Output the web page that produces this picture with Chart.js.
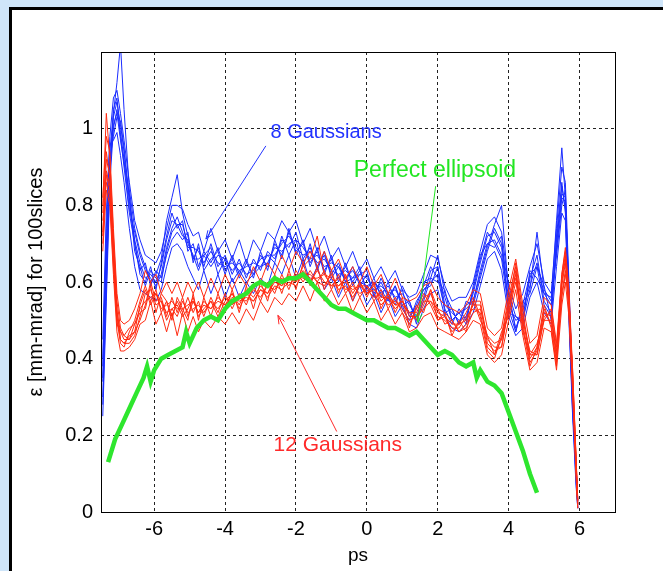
<!DOCTYPE html>
<html>
<head>
<meta charset="utf-8">
<script src="https://cdn.jsdelivr.net/npm/chart.js@4.4.1/dist/chart.umd.min.js"></script>
<style>
  html, body { margin: 0; padding: 0; }
  body { width: 663px; height: 571px; background: #cfe5f9; position: relative; overflow: hidden; }
  #frame { position: absolute; left: 9px; top: 7px; right: -10px; bottom: -10px; background: #fff;
           border-left: 3px solid #000; border-top: 3px solid #000; }
  #wrap { position: absolute; left: 0; top: 0; width: 663px; height: 571px; }
</style>
</head>
<body>
<div id="frame"></div>
<div id="wrap"><canvas id="chart" width="663" height="571"></canvas></div>
<script>
// axis ticks
const xTicks = [-6, -4, -2, 0, 2, 4, 6];
const yTicks = [0, 0.2, 0.4, 0.6, 0.8, 1];

// slice positions (ps) shared by the 8 and 12 gaussian runs
const ps = [
  -7.45, -7.35, -7.25, -7.15, -7.05, -6.95, -6.85, -6.7, -6.55, -6.4,
  -6.25, -6.1, -5.95, -5.8, -5.65, -5.5, -5.35, -5.2, -5.05, -4.9,
  -4.75, -4.6, -4.4, -4.2, -4.0, -3.8, -3.6, -3.4, -3.2, -3.0,
  -2.8, -2.6, -2.4, -2.2, -2.0, -1.8, -1.6, -1.4, -1.2, -1.0,
  -0.8, -0.6, -0.4, -0.2, 0.0, 0.2, 0.4, 0.6, 0.8, 1.0,
  1.2, 1.4, 1.6, 1.8, 2.0, 2.2, 2.4, 2.6, 2.8, 3.0,
  3.2, 3.4, 3.6, 3.8, 4.0, 4.2, 4.4, 4.6, 4.8, 5.0,
  5.2, 5.35, 5.5, 5.6, 5.7, 5.8, 5.9, 5.95
];

// 8 Gaussians runs
const blue1 = [
  0.28, 0.58, 0.88, 1.05, 1.08, 0.98, 0.90, 0.78, 0.70, 0.62,
  0.60, 0.64, 0.58, 0.65, 0.72, 0.78, 0.74, 0.76, 0.68, 0.70,
  0.64, 0.68, 0.65, 0.69, 0.63, 0.66, 0.61, 0.65, 0.62, 0.67,
  0.64, 0.70, 0.67, 0.73, 0.68, 0.70, 0.65, 0.68, 0.63, 0.66,
  0.61, 0.64, 0.60, 0.63, 0.58, 0.61, 0.56, 0.60, 0.55, 0.58,
  0.51, 0.54, 0.59, 0.64, 0.61, 0.53, 0.49, 0.53, 0.50, 0.58,
  0.66, 0.73, 0.70, 0.66, 0.53, 0.47, 0.54, 0.62, 0.64, 0.54,
  0.51, 0.72, 0.86, 0.78, 0.52, 0.28, 0.08, 0.01
];
const blue2 = [
  0.35, 0.66, 0.94, 1.04, 1.12, 1.22, 1.05, 0.84, 0.74, 0.68,
  0.64, 0.60, 0.62, 0.66, 0.76, 0.82, 0.88, 0.78, 0.72, 0.66,
  0.69, 0.64, 0.70, 0.64, 0.67, 0.62, 0.66, 0.61, 0.66, 0.63,
  0.68, 0.66, 0.71, 0.69, 0.73, 0.66, 0.69, 0.64, 0.67, 0.62,
  0.65, 0.60, 0.64, 0.59, 0.62, 0.57, 0.60, 0.56, 0.59, 0.54,
  0.55, 0.50, 0.55, 0.61, 0.67, 0.57, 0.53, 0.49, 0.54, 0.55,
  0.62, 0.69, 0.75, 0.80, 0.57, 0.51, 0.50, 0.58, 0.73, 0.58,
  0.55, 0.76, 0.95, 0.82, 0.58, 0.33, 0.12, 0.03
];
const blue3 = [
  0.40, 0.70, 0.92, 0.98, 1.03, 1.02, 0.95, 0.82, 0.68, 0.64,
  0.59, 0.63, 0.61, 0.60, 0.68, 0.73, 0.75, 0.72, 0.71, 0.66,
  0.66, 0.67, 0.64, 0.67, 0.66, 0.63, 0.65, 0.62, 0.63, 0.66,
  0.67, 0.67, 0.70, 0.72, 0.69, 0.67, 0.68, 0.65, 0.66, 0.63,
  0.62, 0.63, 0.61, 0.62, 0.61, 0.58, 0.59, 0.57, 0.58, 0.55,
  0.52, 0.53, 0.58, 0.60, 0.62, 0.56, 0.50, 0.52, 0.53, 0.55,
  0.63, 0.70, 0.71, 0.67, 0.56, 0.48, 0.53, 0.59, 0.65, 0.57,
  0.54, 0.68, 0.82, 0.81, 0.56, 0.31, 0.11, 0.02
];
const blue4 = [
  0.25, 0.55, 0.86, 1.00, 1.05, 0.99, 0.92, 0.79, 0.73, 0.67,
  0.63, 0.61, 0.59, 0.62, 0.69, 0.74, 0.77, 0.73, 0.69, 0.69,
  0.68, 0.65, 0.68, 0.65, 0.64, 0.65, 0.63, 0.64, 0.65, 0.64,
  0.65, 0.69, 0.68, 0.70, 0.71, 0.69, 0.66, 0.67, 0.64, 0.65,
  0.64, 0.61, 0.63, 0.60, 0.59, 0.60, 0.57, 0.59, 0.56, 0.57,
  0.54, 0.51, 0.56, 0.63, 0.64, 0.54, 0.52, 0.50, 0.51, 0.57,
  0.65, 0.72, 0.73, 0.69, 0.54, 0.50, 0.51, 0.61, 0.67, 0.55,
  0.52, 0.69, 0.85, 0.79, 0.54, 0.29, 0.09, 0.02
];
const blue5 = [
  0.34, 0.64, 0.89, 1.03, 1.07, 1.01, 0.94, 0.81, 0.71, 0.65,
  0.61, 0.62, 0.60, 0.64, 0.71, 0.76, 0.75, 0.75, 0.70, 0.67,
  0.63, 0.67, 0.69, 0.62, 0.66, 0.60, 0.63, 0.60, 0.62, 0.64,
  0.67, 0.65, 0.72, 0.67, 0.71, 0.64, 0.70, 0.63, 0.68, 0.61,
  0.64, 0.60, 0.61, 0.64, 0.57, 0.60, 0.58, 0.55, 0.59, 0.53,
  0.50, 0.55, 0.58, 0.59, 0.64, 0.52, 0.53, 0.49, 0.55, 0.54,
  0.61, 0.68, 0.74, 0.70, 0.58, 0.47, 0.55, 0.57, 0.64, 0.59,
  0.50, 0.71, 0.83, 0.82, 0.57, 0.32, 0.11, 0.03
];
const blue6 = [
  0.30, 0.60, 0.91, 1.01, 1.04, 0.97, 0.91, 0.83, 0.70, 0.63,
  0.65, 0.59, 0.63, 0.61, 0.67, 0.71, 0.73, 0.71, 0.73, 0.65,
  0.70, 0.63, 0.66, 0.68, 0.62, 0.67, 0.62, 0.66, 0.61, 0.68,
  0.63, 0.71, 0.66, 0.74, 0.67, 0.71, 0.64, 0.69, 0.62, 0.67,
  0.60, 0.65, 0.59, 0.62, 0.63, 0.56, 0.61, 0.57, 0.54, 0.59,
  0.55, 0.49, 0.60, 0.61, 0.60, 0.58, 0.50, 0.52, 0.49, 0.59,
  0.67, 0.70, 0.69, 0.72, 0.52, 0.51, 0.49, 0.63, 0.61, 0.57,
  0.56, 0.67, 0.80, 0.84, 0.53, 0.27, 0.12, 0.01
];
const blue7 = [
  0.38, 0.74, 0.96, 0.97, 0.99, 0.93, 0.86, 0.74, 0.64, 0.58,
  0.57, 0.56, 0.55, 0.58, 0.64, 0.69, 0.70, 0.68, 0.64, 0.61,
  0.58, 0.63, 0.57, 0.62, 0.56, 0.61, 0.56, 0.60, 0.57, 0.61,
  0.59, 0.65, 0.62, 0.67, 0.61, 0.66, 0.60, 0.64, 0.58, 0.61,
  0.56, 0.60, 0.55, 0.59, 0.54, 0.57, 0.52, 0.56, 0.51, 0.54,
  0.49, 0.48, 0.53, 0.57, 0.58, 0.51, 0.48, 0.47, 0.49, 0.52,
  0.59, 0.66, 0.68, 0.63, 0.51, 0.46, 0.48, 0.56, 0.60, 0.52,
  0.49, 0.64, 0.78, 0.76, 0.50, 0.26, 0.07, 0.01
];
const blue8 = [
  0.45, 0.78, 0.98, 1.08, 1.10, 1.04, 0.97, 0.86, 0.76, 0.71,
  0.67, 0.66, 0.65, 0.68, 0.74, 0.80, 0.80, 0.79, 0.75, 0.72,
  0.73, 0.68, 0.74, 0.68, 0.71, 0.66, 0.71, 0.65, 0.71, 0.68,
  0.73, 0.71, 0.76, 0.73, 0.76, 0.70, 0.74, 0.68, 0.72, 0.66,
  0.69, 0.64, 0.68, 0.63, 0.66, 0.61, 0.64, 0.60, 0.63, 0.58,
  0.56, 0.57, 0.62, 0.67, 0.66, 0.59, 0.55, 0.56, 0.56, 0.60,
  0.68, 0.75, 0.77, 0.73, 0.59, 0.53, 0.57, 0.64, 0.70, 0.60,
  0.57, 0.74, 0.90, 0.86, 0.60, 0.34, 0.13, 0.03
];

// 12 Gaussians runs
const red1 = [
  0.70, 0.88, 0.84, 0.66, 0.50, 0.44, 0.43, 0.47, 0.50, 0.55,
  0.59, 0.55, 0.58, 0.52, 0.55, 0.51, 0.55, 0.52, 0.56, 0.52,
  0.55, 0.51, 0.56, 0.52, 0.57, 0.53, 0.57, 0.54, 0.59, 0.55,
  0.60, 0.57, 0.62, 0.58, 0.63, 0.60, 0.63, 0.60, 0.63, 0.58,
  0.62, 0.57, 0.60, 0.56, 0.59, 0.55, 0.58, 0.53, 0.56, 0.52,
  0.49, 0.53, 0.57, 0.54, 0.50, 0.51, 0.47, 0.49, 0.52, 0.56,
  0.51, 0.42, 0.40, 0.46, 0.56, 0.64, 0.48, 0.38, 0.43, 0.54,
  0.48, 0.38, 0.60, 0.66, 0.53, 0.33, 0.10, 0.01
];
const red2 = [
  0.80, 1.04, 0.92, 0.72, 0.55, 0.48, 0.46, 0.45, 0.47, 0.50,
  0.54, 0.60, 0.55, 0.56, 0.51, 0.56, 0.52, 0.56, 0.51, 0.55,
  0.52, 0.55, 0.53, 0.56, 0.54, 0.57, 0.54, 0.58, 0.56, 0.59,
  0.57, 0.61, 0.59, 0.62, 0.60, 0.64, 0.66, 0.72, 0.62, 0.61,
  0.59, 0.61, 0.57, 0.60, 0.57, 0.59, 0.55, 0.57, 0.54, 0.55,
  0.52, 0.50, 0.54, 0.58, 0.53, 0.49, 0.50, 0.47, 0.49, 0.55,
  0.55, 0.45, 0.43, 0.43, 0.53, 0.65, 0.52, 0.41, 0.41, 0.51,
  0.52, 0.41, 0.62, 0.69, 0.57, 0.37, 0.14, 0.03
];
const red3 = [
  0.72, 0.92, 0.88, 0.70, 0.53, 0.45, 0.44, 0.44, 0.46, 0.51,
  0.57, 0.58, 0.54, 0.55, 0.52, 0.53, 0.51, 0.55, 0.52, 0.53,
  0.54, 0.52, 0.55, 0.53, 0.56, 0.54, 0.56, 0.55, 0.58, 0.56,
  0.59, 0.58, 0.61, 0.59, 0.62, 0.61, 0.60, 0.63, 0.60, 0.59,
  0.61, 0.58, 0.59, 0.57, 0.58, 0.56, 0.57, 0.54, 0.55, 0.53,
  0.50, 0.51, 0.55, 0.55, 0.51, 0.50, 0.48, 0.48, 0.51, 0.53,
  0.52, 0.43, 0.41, 0.45, 0.55, 0.61, 0.49, 0.39, 0.42, 0.53,
  0.49, 0.39, 0.57, 0.63, 0.54, 0.34, 0.11, 0.02
];
const red4 = [
  0.76, 0.86, 0.82, 0.64, 0.49, 0.47, 0.46, 0.48, 0.49, 0.53,
  0.55, 0.56, 0.57, 0.53, 0.54, 0.55, 0.53, 0.53, 0.54, 0.55,
  0.52, 0.54, 0.53, 0.55, 0.54, 0.56, 0.55, 0.56, 0.55, 0.58,
  0.57, 0.60, 0.59, 0.61, 0.60, 0.63, 0.61, 0.61, 0.62, 0.59,
  0.59, 0.60, 0.58, 0.59, 0.57, 0.58, 0.56, 0.56, 0.54, 0.54,
  0.52, 0.52, 0.56, 0.57, 0.52, 0.51, 0.49, 0.49, 0.50, 0.54,
  0.54, 0.44, 0.42, 0.43, 0.54, 0.62, 0.51, 0.40, 0.43, 0.52,
  0.51, 0.40, 0.59, 0.65, 0.56, 0.36, 0.13, 0.02
];
const red5 = [
  0.78, 0.94, 0.87, 0.69, 0.51, 0.45, 0.44, 0.46, 0.47, 0.54,
  0.58, 0.54, 0.57, 0.55, 0.50, 0.53, 0.54, 0.51, 0.53, 0.56,
  0.51, 0.53, 0.55, 0.51, 0.55, 0.57, 0.53, 0.57, 0.55, 0.58,
  0.56, 0.59, 0.58, 0.60, 0.59, 0.62, 0.62, 0.60, 0.59, 0.62,
  0.58, 0.59, 0.56, 0.59, 0.59, 0.57, 0.54, 0.56, 0.53, 0.55,
  0.51, 0.51, 0.53, 0.55, 0.53, 0.52, 0.50, 0.47, 0.48, 0.52,
  0.53, 0.46, 0.44, 0.45, 0.52, 0.60, 0.50, 0.42, 0.41, 0.50,
  0.50, 0.42, 0.56, 0.62, 0.56, 0.36, 0.13, 0.02
];
const red6 = [
  0.73, 0.89, 0.85, 0.67, 0.52, 0.47, 0.45, 0.45, 0.49, 0.52,
  0.53, 0.59, 0.52, 0.57, 0.55, 0.50, 0.56, 0.53, 0.50, 0.57,
  0.50, 0.56, 0.51, 0.57, 0.52, 0.58, 0.52, 0.59, 0.53, 0.60,
  0.55, 0.62, 0.57, 0.63, 0.58, 0.65, 0.59, 0.64, 0.58, 0.63,
  0.57, 0.62, 0.55, 0.60, 0.56, 0.60, 0.53, 0.57, 0.52, 0.56,
  0.48, 0.54, 0.52, 0.58, 0.50, 0.52, 0.46, 0.50, 0.47, 0.55,
  0.50, 0.46, 0.41, 0.47, 0.51, 0.63, 0.47, 0.41, 0.44, 0.50,
  0.53, 0.43, 0.61, 0.67, 0.52, 0.38, 0.15, 0.03
];
const red7 = [
  0.68, 0.84, 0.80, 0.62, 0.47, 0.42, 0.42, 0.43, 0.45, 0.49,
  0.50, 0.55, 0.49, 0.52, 0.47, 0.52, 0.46, 0.52, 0.47, 0.51,
  0.47, 0.50, 0.48, 0.51, 0.49, 0.52, 0.49, 0.53, 0.50, 0.55,
  0.52, 0.56, 0.54, 0.57, 0.55, 0.59, 0.55, 0.60, 0.55, 0.58,
  0.54, 0.57, 0.52, 0.56, 0.52, 0.55, 0.50, 0.53, 0.49, 0.52,
  0.47, 0.48, 0.51, 0.52, 0.48, 0.47, 0.46, 0.45, 0.47, 0.50,
  0.49, 0.41, 0.39, 0.41, 0.50, 0.58, 0.46, 0.37, 0.39, 0.48,
  0.47, 0.37, 0.54, 0.60, 0.51, 0.32, 0.10, 0.01
];
const red8 = [
  0.82, 0.98, 0.94, 0.74, 0.57, 0.50, 0.49, 0.50, 0.53, 0.57,
  0.63, 0.60, 0.62, 0.57, 0.60, 0.57, 0.60, 0.56, 0.60, 0.57,
  0.60, 0.56, 0.61, 0.57, 0.62, 0.58, 0.62, 0.59, 0.64, 0.60,
  0.65, 0.62, 0.67, 0.63, 0.68, 0.65, 0.68, 0.64, 0.68, 0.63,
  0.66, 0.61, 0.64, 0.60, 0.64, 0.59, 0.62, 0.57, 0.61, 0.56,
  0.55, 0.56, 0.59, 0.60, 0.56, 0.54, 0.53, 0.52, 0.54, 0.58,
  0.57, 0.48, 0.46, 0.48, 0.58, 0.66, 0.54, 0.44, 0.46, 0.56,
  0.54, 0.44, 0.62, 0.68, 0.58, 0.38, 0.14, 0.03
];

// perfect ellipsoid
const ellipsePs = [
  -7.3, -7.1, -6.9, -6.7, -6.5, -6.3, -6.2, -6.1, -6.0, -5.8,
  -5.6, -5.4, -5.2, -5.1, -5.0, -4.8, -4.6, -4.4, -4.2, -4.0,
  -3.8, -3.6, -3.4, -3.2, -3.0, -2.8, -2.6, -2.4, -2.2, -2.0,
  -1.8, -1.6, -1.4, -1.2, -1.0, -0.8, -0.6, -0.4, -0.2, 0.0,
  0.2, 0.4, 0.6, 0.8, 1.0, 1.2, 1.4, 1.6, 1.8, 2.0,
  2.2, 2.4, 2.6, 2.8, 3.0, 3.1, 3.2, 3.4, 3.6, 3.8,
  4.0, 4.2, 4.4, 4.6, 4.8
];
const ellipseEps = [
  0.13, 0.19, 0.23, 0.27, 0.31, 0.35, 0.38, 0.34, 0.37, 0.40,
  0.41, 0.42, 0.43, 0.47, 0.44, 0.48, 0.50, 0.51, 0.50, 0.53,
  0.55, 0.56, 0.57, 0.59, 0.60, 0.59, 0.61, 0.60, 0.61, 0.61,
  0.62, 0.60, 0.58, 0.56, 0.54, 0.53, 0.53, 0.52, 0.51, 0.50,
  0.50, 0.49, 0.48, 0.48, 0.47, 0.46, 0.47, 0.45, 0.43, 0.41,
  0.42, 0.41, 0.39, 0.38, 0.39, 0.35, 0.37, 0.34, 0.33, 0.31,
  0.26, 0.21, 0.16, 0.10, 0.05
];

const blueRuns = [blue1, blue2, blue3, blue4, blue5, blue6, blue7, blue8];
const redRuns = [red1, red2, red3, red4, red5, red6, red7, red8];

const FONT = '"Liberation Sans", Arial, Helvetica, sans-serif';
const BLUE = '#1a2cff';
const RED = '#ff2a10';
const GREEN = '#2ee62e';

// text labels with arrows, in data units
const notes = [
  { text: '8 Gaussians', color: '#2233ff', size: 20, at: [-1.15, 0.99], from: [-2.85, 0.955], to: [-4.54, 0.712] },
  { text: 'Perfect ellipsoid', color: '#22e622', size: 23, at: [1.92, 0.89], from: [1.94, 0.85], to: [1.44, 0.495] },
  { text: '12 Gaussians', color: '#ff2a2a', size: 21, at: [-0.82, 0.173], from: [-0.85, 0.21], to: [-2.51, 0.513] }
];

function toPoints(xs, ys) {
  return xs.map((x, i) => ({ x: x, y: ys[i] }));
}

const datasets = [];
datasets.push({ data: toPoints(ellipsePs, ellipseEps), borderColor: GREEN, borderWidth: 4.5 });
redRuns.forEach(r => datasets.push({ data: toPoints(ps, r), borderColor: RED, borderWidth: 1 }));
blueRuns.forEach(b => datasets.push({ data: toPoints(ps, b), borderColor: BLUE, borderWidth: 1 }));

const boxAndNotes = {
  id: 'boxAndNotes',
  afterDatasetsDraw(chart) {
    const { ctx, chartArea: a, scales: { x, y } } = chart;
    ctx.save();
    ctx.strokeStyle = '#000';
    ctx.lineWidth = 1;
    ctx.strokeRect(Math.round(a.left) + 0.5, Math.round(a.top) + 0.5,
                   Math.round(a.right - a.left), Math.round(a.bottom - a.top));
    notes.forEach(n => {
      const fx = x.getPixelForValue(n.from[0]), fy = y.getPixelForValue(n.from[1]);
      const tx = x.getPixelForValue(n.to[0]), ty = y.getPixelForValue(n.to[1]);
      ctx.strokeStyle = n.color;
      ctx.lineWidth = 1;
      ctx.beginPath();
      ctx.moveTo(fx, fy);
      ctx.lineTo(tx, ty);
      ctx.stroke();
      const ang = Math.atan2(ty - fy, tx - fx);
      ctx.beginPath();
      ctx.moveTo(tx - 9 * Math.cos(ang - 0.35), ty - 9 * Math.sin(ang - 0.35));
      ctx.lineTo(tx, ty);
      ctx.lineTo(tx - 9 * Math.cos(ang + 0.35), ty - 9 * Math.sin(ang + 0.35));
      ctx.stroke();
      ctx.fillStyle = n.color;
      ctx.font = n.size + 'px ' + FONT;
      ctx.textAlign = 'center';
      ctx.textBaseline = 'middle';
      ctx.fillText(n.text, x.getPixelForValue(n.at[0]), y.getPixelForValue(n.at[1]));
    });
    ctx.restore();
  }
};

new Chart(document.getElementById('chart'), {
  type: 'line',
  data: { datasets: datasets },
  options: {
    responsive: false,
    animation: false,
    devicePixelRatio: 1,
    elements: { point: { radius: 0 }, line: { tension: 0 } },
    plugins: { legend: { display: false }, tooltip: { enabled: false } },
    layout: { padding: { left: 0, right: 48, top: 52, bottom: 0 } },
    scales: {
      x: {
        type: 'linear',
        min: -7.5,
        max: 7,
        afterBuildTicks: s => { s.ticks = xTicks.map(v => ({ value: v })); },
        afterFit: s => { s.height = 59; },
        grid: { color: '#222', lineWidth: 1, drawTicks: false },
        border: { display: false, dash: [3, 3] },
        ticks: { color: '#000', padding: 5, autoSkip: false, maxRotation: 0,
                 font: { size: 20, family: FONT }, callback: v => String(v) },
        title: { display: true, text: 'ps', color: '#000',
                 font: { size: 19, family: FONT }, padding: { top: 0, bottom: 4 } }
      },
      y: {
        type: 'linear',
        min: 0,
        max: 1.2,
        afterBuildTicks: s => { s.ticks = yTicks.map(v => ({ value: v })); },
        afterFit: s => { s.width = 101; },
        grid: { color: '#222', lineWidth: 1, drawTicks: false },
        border: { display: false, dash: [3, 3] },
        ticks: { color: '#000', padding: 8, autoSkip: false,
                 font: { size: 20, family: FONT }, callback: v => String(v) },
        title: { display: true, text: 'ε [mm-mrad] for 100slices', color: '#000',
                 font: { size: 20, family: FONT }, padding: { top: 24, bottom: 0 } }
      }
    }
  },
  plugins: [boxAndNotes]
});
</script>
</body>
</html>
